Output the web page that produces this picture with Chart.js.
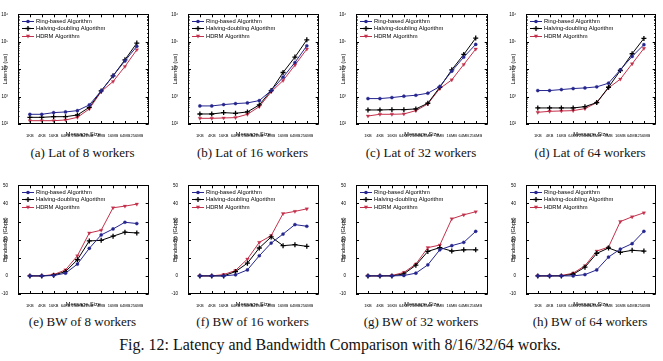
<!DOCTYPE html>
<html>
<head>
<meta charset="utf-8">
<script src="https://cdn.jsdelivr.net/npm/chart.js@4.4.0/dist/chart.umd.min.js"></script>
<style>
  html, body { margin: 0; padding: 0; background: #fff; }
  #fig { position: relative; width: 663px; height: 361px; overflow: hidden; background: #fff; }
  .panel { position: absolute; }
  .cap { position: absolute; font-family: "Liberation Serif", serif; color: #111; white-space: nowrap;
         transform: translateX(-50%); line-height: 16px; }
</style>
</head>
<body>
<div id="fig"></div>
<script>
// message sizes on the x axis
const sizes = ['1KB', '4KB', '16KB', '64KB', '256KB', '1MB', '4MB', '16MB', '64MB', '256MB'];
const names = ['Ring-based Algorithm', 'Halving-doubling Algorithm', 'HDRM Algorithm'];
const colors = ['#25258f', '#000000', '#c3304b'];

// latency (us), log scale
const lat8Ring     = [226, 226, 260, 275, 307, 496, 1610, 5700, 20000, 68000];
const lat8Halving  = [175, 175, 185, 185, 213, 407, 1610, 5700, 21900, 89000];
const lat8Hdrm     = [132, 132, 132, 140, 175, 354, 1520, 3540, 12500, 51000];

const lat16Ring    = [456, 456, 510, 555, 587, 714, 1660, 5090, 17500, 71000];
const lat16Halving = [232, 232, 260, 246, 275, 496, 1660, 7550, 27500, 117000];
const lat16Hdrm    = [161, 161, 166, 171, 226, 430, 1480, 3850, 14000, 54000];

const lat32Ring    = [845, 845, 919, 1030, 1120, 1325, 2320, 8450, 27500, 80000];
const lat32Halving = [325, 325, 334, 334, 354, 570, 2190, 9460, 34400, 136000];
const lat32Hdrm    = [196, 226, 226, 232, 307, 540, 1960, 4070, 14800, 54000];

const lat64Ring    = [1660, 1660, 1800, 1960, 2070, 2260, 3080, 9460, 29000, 78000];
const lat64Halving = [385, 385, 385, 385, 430, 603, 2190, 8940, 36400, 132000];
const lat64Hdrm    = [267, 290, 299, 307, 364, 603, 2070, 4310, 15700, 57000];

// bandwidth (Gbps)
const bw8Ring      = [0, 0, 0.2, 1.5, 6.5, 15.2, 22.6, 25.9, 29.6, 28.9];
const bw8Halving   = [0, 0, 0.4, 2.4, 8.9, 19.3, 19.6, 21.9, 24.1, 23.7];
const bw8Hdrm      = [0, 0, 0.7, 3.3, 11.1, 23.7, 25.2, 37.6, 38.5, 39.6];

const bw16Ring     = [0, 0, 0, 0.6, 3.3, 11.1, 18.1, 23.1, 28.3, 27.4];
const bw16Halving  = [0, 0, 0, 2.4, 7.0, 15.4, 21.5, 16.7, 17.2, 16.3];
const bw16Hdrm     = [0, 0, 0.7, 3.0, 9.3, 18.5, 22.2, 34.4, 35.6, 37.0];

const bw32Ring     = [0, 0, 0, 0.2, 1.5, 6.1, 14.4, 16.7, 18.5, 24.6];
const bw32Halving  = [0, 0, 0, 1.1, 5.9, 13.5, 15.6, 13.7, 14.4, 14.4];
const bw32Hdrm     = [0, 0, 0.2, 1.9, 6.5, 15.6, 17.0, 31.5, 33.7, 35.4];

const bw64Ring     = [0, 0, 0, 0, 0.7, 3.3, 10.4, 14.8, 17.8, 24.6];
const bw64Halving  = [0, 0, 0, 0.9, 4.8, 12.4, 15.4, 13.0, 14.1, 13.7];
const bw64Hdrm     = [0, 0, 0.2, 1.5, 5.6, 13.7, 15.9, 30.0, 32.6, 34.8];

const panels = [
  { cap: '(a) Lat of 8 workers',  kind: 'lat', series: [lat8Ring, lat8Halving, lat8Hdrm],    L: 18,  R: 149, T: 15,  B: 124 },
  { cap: '(b) Lat of 16 workers', kind: 'lat', series: [lat16Ring, lat16Halving, lat16Hdrm], L: 188, R: 319, T: 15,  B: 124 },
  { cap: '(c) Lat of 32 workers', kind: 'lat', series: [lat32Ring, lat32Halving, lat32Hdrm], L: 356, R: 488, T: 15,  B: 124 },
  { cap: '(d) Lat of 64 workers', kind: 'lat', series: [lat64Ring, lat64Halving, lat64Hdrm], L: 526, R: 656, T: 15,  B: 124 },
  { cap: '(e) BW of 8 workers',   kind: 'bw',  series: [bw8Ring, bw8Halving, bw8Hdrm],       L: 18,  R: 149, T: 186, B: 294 },
  { cap: '(f) BW of 16 workers',  kind: 'bw',  series: [bw16Ring, bw16Halving, bw16Hdrm],    L: 188, R: 319, T: 186, B: 294 },
  { cap: '(g) BW of 32 workers',  kind: 'bw',  series: [bw32Ring, bw32Halving, bw32Hdrm],    L: 356, R: 488, T: 186, B: 294 },
  { cap: '(h) BW of 64 workers',  kind: 'bw',  series: [bw64Ring, bw64Halving, bw64Hdrm],    L: 526, R: 656, T: 186, B: 294 },
];

const sans = '"Liberation Sans", Arial, sans-serif';
const sup = { 2: '\u00b2', 3: '\u00b3', 4: '\u2074', 5: '\u2075', 6: '\u2076' };

// small line+marker glyph for the legend, like matplotlib
function legendIcon(i) {
  const c = document.createElement('canvas');
  c.width = 12; c.height = 7;
  const g = c.getContext('2d');
  g.strokeStyle = colors[i]; g.fillStyle = colors[i]; g.lineWidth = 1;
  g.beginPath(); g.moveTo(0, 3.5); g.lineTo(12, 3.5); g.stroke();
  g.beginPath();
  if (i === 0) { g.arc(6, 3.5, 1.8, 0, Math.PI * 2); g.fill(); }
  else if (i === 1) { g.lineWidth = 1.3; g.moveTo(6, 1); g.lineTo(6, 6); g.moveTo(3.5, 3.5); g.lineTo(8.5, 3.5); g.stroke(); }
  else { g.moveTo(4, 1.8); g.lineTo(8, 1.8); g.lineTo(6, 5.5); g.closePath(); g.fill(); }
  return c;
}
const icons = [0, 1, 2].map(legendIcon);

// legend drawn inside the plot, upper left
const legendPlugin = {
  id: 'inlegend',
  afterDatasetsDraw(chart) {
    const { ctx, chartArea: a } = chart;
    ctx.save();
    ctx.font = '5.8px ' + sans;
    ctx.textBaseline = 'middle';
    ctx.fillStyle = '#000';
    names.forEach((n, i) => {
      const y = a.top + 7 + i * 7.5;
      ctx.drawImage(icons[i], a.left + 4, Math.round(y - 3.5));
      ctx.fillText(n, a.left + 18, y);
    });
    ctx.restore();
  }
};

// axis titles, placed next to the frame
const titlePlugin = {
  id: 'axtitles',
  afterDraw(chart) {
    const { ctx, chartArea: a } = chart;
    const t = chart.options.plugins.axtitles;
    ctx.save();
    ctx.font = '5.6px ' + sans;
    ctx.fillStyle = '#000';
    ctx.textAlign = 'center';
    ctx.textBaseline = 'middle';
    ctx.fillText(t.x, (a.left + a.right) / 2, a.bottom + 10);
    ctx.translate(a.left - 13, (a.top + a.bottom) / 2);
    ctx.rotate(-Math.PI / 2);
    ctx.fillText(t.y, 0, 0);
    ctx.restore();
  }
};

// box around the plot and inward ticks
const framePlugin = {
  id: 'frame',
  afterDraw(chart) {
    const { ctx, chartArea: a, scales } = chart;
    ctx.save();
    ctx.strokeStyle = '#000';
    ctx.lineWidth = 1;
    ctx.strokeRect(Math.round(a.left) + 0.5, Math.round(a.top) + 0.5, Math.round(a.width) - 1, Math.round(a.height) - 1);
    ctx.beginPath();
    scales.x.ticks.forEach(t => {
      if (t.value < 0 || t.value > 9) return;
      const px = Math.round(scales.x.getPixelForValue(t.value)) + 0.5;
      ctx.moveTo(px, a.bottom); ctx.lineTo(px, a.bottom - 3);
      ctx.moveTo(px, a.top); ctx.lineTo(px, a.top + 3);
    });
    scales.y.ticks.forEach(t => {
      const py = Math.round(scales.y.getPixelForValue(t.value)) + 0.5;
      const len = (scales.y.type === 'logarithmic' && !t.major) ? 1.5 : 3;
      ctx.moveTo(a.left, py); ctx.lineTo(a.left + len, py);
      ctx.moveTo(a.right, py); ctx.lineTo(a.right - len, py);
    });
    ctx.stroke();
    ctx.restore();
  }
};

const fig = document.getElementById('fig');

panels.forEach(p => {
  const yW = 18, xH = 16, padT = 5, padR = 5;
  const div = document.createElement('div');
  div.className = 'panel';
  div.style.left = (p.L - yW) + 'px';
  div.style.top = (p.T - padT - 1) + 'px';
  const canvas = document.createElement('canvas');
  canvas.width = (p.R - p.L) + yW + padR;
  canvas.height = (p.B - p.T) + padT + xH + 1;
  div.appendChild(canvas);
  fig.appendChild(div);

  const isLat = p.kind === 'lat';
  const datasets = p.series.map((vals, i) => ({
    label: names[i],
    data: vals.map((v, k) => ({ x: k, y: v })),
    borderColor: colors[i],
    backgroundColor: colors[i],
    borderWidth: 1,
    pointStyle: ['circle', 'cross', 'triangle'][i],
    pointRotation: i === 2 ? 180 : 0,
    pointRadius: [1.6, 2.5, 2.1][i],
    pointBorderWidth: i === 1 ? 1.3 : 0.3,
    tension: 0,
  }));

  new Chart(canvas, {
    type: 'line',
    data: { datasets },
    options: {
      responsive: false,
      animation: false,
      layout: { padding: { top: padT, right: padR, left: 0, bottom: 0 } },
      plugins: {
        tooltip: { enabled: false },
        legend: { display: false },
        axtitles: { x: 'Message Size', y: isLat ? 'Latency (us)' : 'Bandwidth (Gbps)' },
      },
      scales: {
        x: {
          type: 'linear',
          min: -1, max: 10,
          grid: { display: false },
          border: { display: false },
          afterFit: s => { s.height = xH; },
          ticks: {
            stepSize: 1, autoSkip: false, maxRotation: 0, padding: 1,
            color: '#000', font: { family: sans, size: 4 },
            callback: v => sizes[v] ?? '',
          },
        },
        y: isLat ? {
          type: 'logarithmic',
          min: 100, max: 1000000,
          grid: { display: false },
          border: { display: false },
          afterFit: s => { s.width = yW; },
          ticks: {
            autoSkip: false, padding: 2, color: '#000', font: { family: sans, size: 4.5 },
            callback: v => {
              const e = Math.log10(v);
              return Math.abs(e - Math.round(e)) < 1e-9 ? '10' + sup[Math.round(e)] : '';
            },
          },
        } : {
          type: 'linear',
          min: -10, max: 50,
          grid: { display: false },
          border: { display: false },
          afterFit: s => { s.width = yW; },
          ticks: { stepSize: 10, padding: 2, color: '#000', font: { family: sans, size: 4.5 } },
        },
      },
    },
    plugins: [legendPlugin, titlePlugin, framePlugin],
  });

  const cap = document.createElement('div');
  cap.className = 'cap';
  cap.style.fontSize = '13px';
  cap.style.left = ((p.L + p.R) / 2 - 1) + 'px';
  cap.style.top = (isLat ? 145 : 314) + 'px';
  cap.textContent = p.cap;
  fig.appendChild(cap);
});

const figCap = document.createElement('div');
figCap.className = 'cap';
figCap.style.fontSize = '16px';
figCap.style.left = '340px';
figCap.style.top = '337px';
figCap.textContent = 'Fig. 12: Latency and Bandwidth Comparison with 8/16/32/64 works.';
fig.appendChild(figCap);
</script>
</body>
</html>
